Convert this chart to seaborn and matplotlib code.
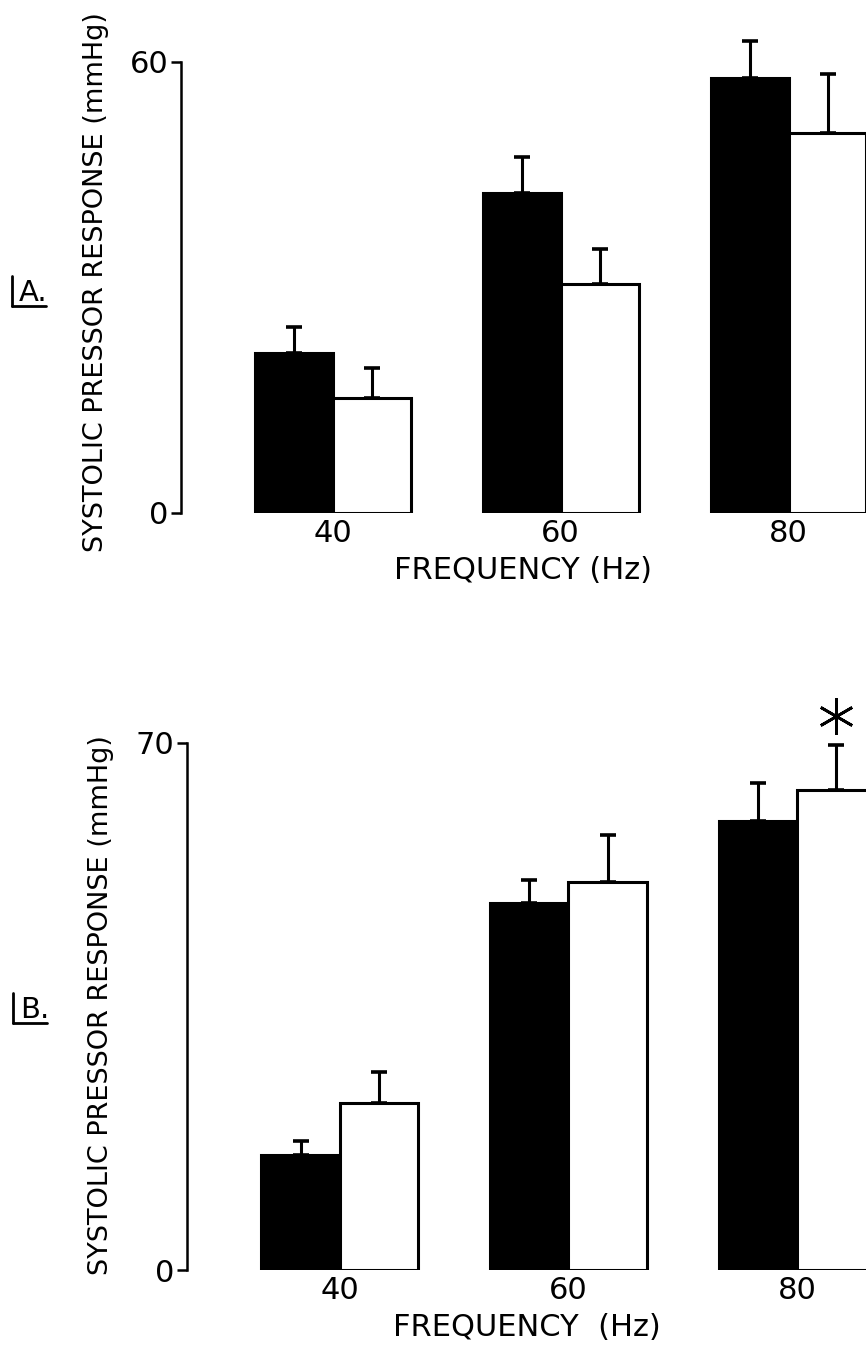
import matplotlib
matplotlib.use('Agg')

import seaborn as sns
import matplotlib.pyplot as plt
import pandas as pd
from matplotlib.lines import Line2D

# frequencies on the x axis
freqs = ["40", "60", "80"]
groups = ["control", "treated"]

# panel A (mmHg, mean and upper SEM)
a_control = [21.3, 42.6, 57.8]
a_control_err = [3.4, 4.7, 5.0]
a_treated = [15.3, 30.5, 50.5]
a_treated_err = [4.0, 4.6, 7.9]

# panel B
b_control = [15.3, 48.7, 59.6]
b_control_err = [1.8, 3.1, 5.1]
b_treated = [22.2, 51.5, 63.7]
b_treated_err = [4.1, 6.3, 6.0]
b_signif = [False, False, True]  # asterisk on treated bar

sns.set_style("ticks", {"axes.edgecolor": "black", "text.color": "black",
                        "axes.labelcolor": "black", "xtick.color": "black",
                        "ytick.color": "black"})
plt.rcParams['font.family'] = ['DejaVu Sans']

FS = 22
W, H = 866, 1363
fig = plt.figure(figsize=(W / 100, H / 100), dpi=100)


def make_frame(ctrl, treat):
    rows = []
    for f, v in zip(freqs, ctrl):
        rows.append({"freq": f, "group": groups[0], "value": v})
    for f, v in zip(freqs, treat):
        rows.append({"freq": f, "group": groups[1], "value": v})
    return pd.DataFrame(rows)


def panel_letter(letter, x_px, y_px):
    # upright letter with an L-shaped bracket (left bar + underline)
    fig.text((x_px + 7) / W, 1 - (y_px - 5) / H, letter, fontsize=21,
             ha='left', va='baseline')
    fig.add_artist(Line2D([x_px / W, x_px / W],
                          [1 - (y_px - 30) / H, 1 - y_px / H],
                          color='black', lw=2))
    fig.add_artist(Line2D([x_px / W, (x_px + 34) / W],
                          [1 - y_px / H, 1 - y_px / H],
                          color='black', lw=2))


def draw_panel(rect, ctrl, ctrl_err, treat, treat_err, ytop, ymax, xright,
               xlabel, ylab_pos):
    ax = fig.add_axes(rect)
    df = make_frame(ctrl, treat)
    sns.barplot(data=df, x="freq", y="value", hue="group", order=freqs,
                hue_order=groups, palette=["black", "white"], edgecolor="black",
                linewidth=2.2, width=0.684, errorbar=None, legend=False, ax=ax)

    # one-sided error bars (upper only)
    for cont, errs in zip(ax.containers, [ctrl_err, treat_err]):
        for bar, e in zip(cont, errs):
            xc = bar.get_x() + bar.get_width() / 2
            ax.errorbar(xc, bar.get_height(), yerr=[[0], [e]], fmt="none",
                        ecolor="black", elinewidth=2.2, capsize=6, capthick=2.6,
                        zorder=3)

    ax.set_xlim(-0.667, xright)
    ax.set_ylim(0, ymax)
    ax.set_yticks([0, ytop])
    ax.set_yticklabels(["0", str(ytop)], fontsize=FS)
    ax.spines['left'].set_bounds(0, ytop)
    ax.spines['left'].set_linewidth(1.8)
    for s in ['top', 'right', 'bottom']:
        ax.spines[s].set_visible(False)
    ax.tick_params(axis='y', length=7, width=1.8, pad=2)
    ax.tick_params(axis='x', length=0, labelsize=FS, pad=4)
    ax.set_xlabel(xlabel, fontsize=FS, labelpad=6)
    ax.set_ylabel("SYSTOLIC PRESSOR RESPONSE (mmHg)", fontsize=19.5)
    ax.yaxis.set_label_coords(*ylab_pos)
    return ax


ax_a = draw_panel([181 / W, 1 - 513 / H, 1 - 181 / W, 66 * 7.52 / H],
                  a_control, a_control_err, a_treated, a_treated_err,
                  60, 66, 2.34, "FREQUENCY (Hz)", (-0.105, 0.466))
panel_letter("A.", 12, 306)

ax_b = draw_panel([187 / W, 1 - 1270 / H, 1 - 187 / W, 77 * 7.53 / H],
                  b_control, b_control_err, b_treated, b_treated_err,
                  70, 77, 2.30, "FREQUENCY  (Hz)", (-0.1075, 0.457))
panel_letter("B.", 13, 1023)

# significance asterisk above panel B treated bars
for bar, e, sig in zip(ax_b.containers[1], b_treated_err, b_signif):
    if sig:
        ax_b.plot(bar.get_x() + bar.get_width() / 2, bar.get_height() + e + 3.9,
                  marker=(6, 2, 0), markersize=26, mew=2, color='black',
                  clip_on=False)

fig.savefig("out.png", dpi=100, facecolor="white")
